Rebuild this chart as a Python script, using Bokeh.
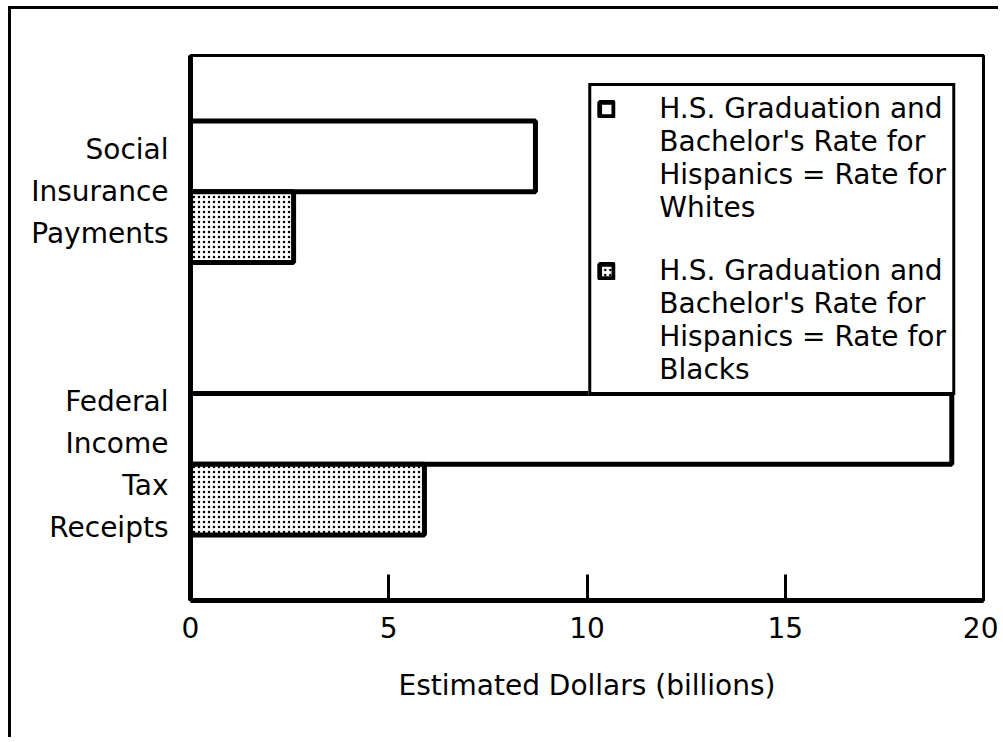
from bokeh.plotting import figure
from bokeh.models import Range1d, FactorRange, Legend, LegendItem, FixedTicker, ColumnDataSource
from bokeh.transform import dodge
from bokeh.embed import file_html
from bokeh.resources import INLINE

# ---- data ----
categories = ["Federal\nIncome\nTax\nReceipts", "Social\nInsurance\nPayments"]
NB = "\u00a0"
# same names, lines padded so that the right-aligned axis text looks centred
category_labels = [
    "Federal" + NB + "\nIncome" + NB + "\nTax" + NB * 4 + "\nReceipts",
    "Social" + NB * 3 + "\nInsurance\nPayments",
]
series_names = [
    "H.S. Graduation and\nBachelor's Rate for\nHispanics = Rate for\nWhites",
    "H.S. Graduation and\nBachelor's Rate for\nHispanics = Rate for\nBlacks",
]
rate_whites = [19.2, 8.7]
rate_blacks = [5.9, 2.6]
x_ticks = [0, 5, 10, 15, 20]
x_label = "Estimated Dollars (billions)"

FONT = "DejaVu Sans"
FS = "28px"

src = ColumnDataSource(dict(cat=categories, whites=rate_whites, blacks=rate_blacks))

p = figure(
    width=990, height=731,
    y_range=FactorRange(factors=categories, range_padding=0),
    x_range=Range1d(0, 20),
    output_backend="svg", toolbar_location=None,
    min_border_left=179, min_border_right=18, min_border_top=46, min_border_bottom=140,
    styles={"margin-left": "8px", "margin-top": "6px",
            "border-top": "3px solid black", "border-left": "3px solid black"},
)
p.background_fill_color = "white"
p.border_fill_color = "white"
p.outline_line_color = "black"
p.outline_line_width = 3
p.outline_line_alpha = 1.0
p.xgrid.visible = False
p.ygrid.visible = False

bar_h = 0.26
r_w = p.hbar(y=dodge("cat", bar_h / 2, range=p.y_range), left=0, right="whites", height=bar_h,
             fill_color="white", line_color="black", line_width=5, source=src)
r_b = p.hbar(y=dodge("cat", -bar_h / 2, range=p.y_range), left=0, right="blacks", height=bar_h,
             fill_color="white", line_color="black", line_width=5,
             hatch_pattern="dot", hatch_color="black", hatch_scale=5, hatch_weight=4,
             source=src)
# invisible renderer used only to hold the extra legend text lines
r_blank = p.hbar(y=[], right=[], left=0, height=bar_h, fill_alpha=0, line_alpha=0)

# x axis
xa = p.xaxis[0]
xa.ticker = FixedTicker(ticks=x_ticks)
xa.minor_tick_line_color = None
xa.major_tick_in = 26
xa.major_tick_out = 0
xa.major_tick_line_width = 3
xa.axis_line_width = 5
xa.major_label_text_font = FONT
xa.major_label_text_font_size = FS
xa.major_label_text_color = "black"
xa.major_label_standoff = 16
xa.axis_label = x_label
xa.axis_label_text_font = FONT
xa.axis_label_text_font_size = FS
xa.axis_label_text_font_style = "normal"
xa.axis_label_text_color = "black"
xa.axis_label_standoff = 28

# y axis
ya = p.yaxis[0]
ya.major_tick_line_color = None
ya.minor_tick_line_color = None
ya.major_tick_in = 0
ya.major_tick_out = 0
ya.axis_line_width = 5
ya.major_label_text_font = FONT
ya.major_label_text_font_size = FS
ya.major_label_text_color = "black"
ya.major_label_text_line_height = 1.27
ya.major_label_standoff = 22
ya.major_label_overrides = dict(zip(categories, category_labels))

items = []
for name, rend in zip(series_names, [r_w, r_b]):
    lines = name.split("\n")
    if items:
        items.append(LegendItem(label=" ", renderers=[r_blank]))
    items.append(LegendItem(label=lines[0], renderers=[rend]))
    for ln in lines[1:]:
        items.append(LegendItem(label=ln, renderers=[r_blank]))

legend = Legend(
    items=items,
    location="top_right", margin=28, padding=6, spacing=0,
    glyph_width=18, glyph_height=18, label_standoff=44, label_height=30,
    label_text_font=FONT, label_text_font_size=FS, label_text_line_height=1.0,
    label_text_color="black",
    border_line_color="black", border_line_width=3, border_line_alpha=1.0,
    background_fill_color="white", background_fill_alpha=1.0,
)
p.add_layout(legend)

open("out.html", "w").write(file_html(p, INLINE))
